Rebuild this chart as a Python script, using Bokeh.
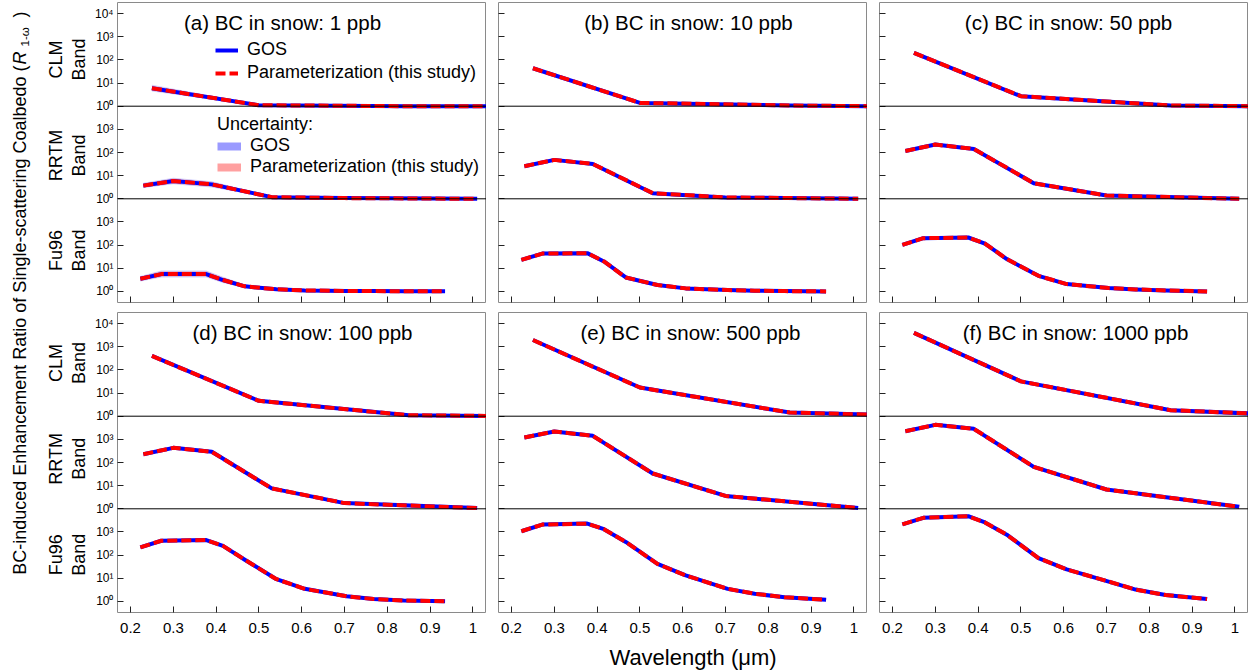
import math
from bokeh.plotting import figure
from bokeh.models import (Range1d, FixedTicker, Label, Legend, LegendItem,
                          NumeralTickFormatter, LogScale, Span, CustomLabelingPolicy)
from bokeh.layouts import row, column
from bokeh.embed import file_html
from bokeh.resources import INLINE

FONT = "Liberation Sans"

# ---------------- data ----------------
wl_clm = [0.25, 0.50, 0.85, 1.05]
wl_rrtm = [0.23, 0.30, 0.39, 0.53, 0.70, 1.01]
wl_fu96 = [0.223, 0.272, 0.377, 0.416, 0.467, 0.541, 0.607, 0.705, 0.768, 0.838, 0.935]

bc_ppb = [1, 10, 50, 100, 500, 1000]
panel_titles = ["(a) BC in snow: 1 ppb", "(b) BC in snow: 10 ppb", "(c) BC in snow: 50 ppb",
                "(d) BC in snow: 100 ppb", "(e) BC in snow: 500 ppb", "(f) BC in snow: 1000 ppb"]
band_names = ["CLM", "RRTM", "Fu96"]
x_ticks = [0.2, 0.3, 0.4, 0.5, 0.6, 0.7, 0.8, 0.9, 1.0]
y_tick_exponents = [0, 1, 2, 3, 4]

# GOS enhancement ratio, CLM bands
gos_clm_1 = [6.0, 1.1, 1.0, 1.0]
gos_clm_10 = [43.6, 1.39, 1.07, 1.0]
gos_clm_50 = [200, 2.7, 1.07, 1.0]
gos_clm_100 = [400, 4.6, 1.1, 1.02]
gos_clm_500 = [1950, 17.3, 1.44, 1.15]
gos_clm_1000 = [3980, 32, 1.82, 1.28]

# GOS enhancement ratio, RRTM bands
gos_rrtm_1 = [3.7, 5.9, 4.2, 1.18, 1.07, 1.0]
gos_rrtm_10 = [25.6, 48, 32, 1.75, 1.15, 1.0]
gos_rrtm_50 = [117, 220, 143, 4.7, 1.39, 1.0]
gos_rrtm_100 = [229, 430, 289, 7.6, 1.76, 1.07]
gos_rrtm_500 = [1200, 2180, 1420, 33.5, 3.6, 1.08]
gos_rrtm_1000 = [2240, 4230, 2840, 65, 6.8, 1.22]

# GOS enhancement ratio, Fu96 bands
gos_fu96_1 = [3.5, 5.6, 5.6, 3.1, 1.65, 1.23, 1.1, 1.05, 1.03, 1.02, 1.01]
gos_fu96_10 = [23, 43, 45, 19.7, 4.0, 1.88, 1.35, 1.14, 1.07, 1.03, 1.0]
gos_fu96_50 = [102, 199, 213, 117, 25, 4.7, 2.07, 1.39, 1.22, 1.1, 1.0]
gos_fu96_100 = [214, 417, 447, 251, 63, 9.1, 3.5, 1.66, 1.26, 1.1, 1.02]
gos_fu96_500 = [1070, 2090, 2290, 1320, 370, 41.7, 13.2, 3.47, 2.14, 1.51, 1.17]
gos_fu96_1000 = [2140, 4070, 4790, 2570, 760, 74, 24, 7.2, 3.24, 1.88, 1.26]

# Parameterization (this study): indistinguishable from GOS at the drawn line width
par_clm_1 = [6.0, 1.1, 1.0, 1.0]
par_clm_10 = [43.6, 1.39, 1.07, 1.0]
par_clm_50 = [200, 2.7, 1.07, 1.0]
par_clm_100 = [400, 4.6, 1.1, 1.02]
par_clm_500 = [1950, 17.3, 1.44, 1.15]
par_clm_1000 = [3980, 32, 1.82, 1.28]
par_rrtm_1 = [3.7, 5.9, 4.2, 1.18, 1.07, 1.0]
par_rrtm_10 = [25.6, 48, 32, 1.75, 1.15, 1.0]
par_rrtm_50 = [117, 220, 143, 4.7, 1.39, 1.0]
par_rrtm_100 = [229, 430, 289, 7.6, 1.76, 1.07]
par_rrtm_500 = [1200, 2180, 1420, 33.5, 3.6, 1.08]
par_rrtm_1000 = [2240, 4230, 2840, 65, 6.8, 1.22]
par_fu96_1 = [3.5, 5.6, 5.6, 3.1, 1.65, 1.23, 1.1, 1.05, 1.03, 1.02, 1.01]
par_fu96_10 = [23, 43, 45, 19.7, 4.0, 1.88, 1.35, 1.14, 1.07, 1.03, 1.0]
par_fu96_50 = [102, 199, 213, 117, 25, 4.7, 2.07, 1.39, 1.22, 1.1, 1.0]
par_fu96_100 = [214, 417, 447, 251, 63, 9.1, 3.5, 1.66, 1.26, 1.1, 1.02]
par_fu96_500 = [1070, 2090, 2290, 1320, 370, 41.7, 13.2, 3.47, 2.14, 1.51, 1.17]
par_fu96_1000 = [2140, 4070, 4790, 2570, 760, 74, 24, 7.2, 3.24, 1.88, 1.26]

# Uncertainty ranges (only visible at 1 ppb)
gos_lo_clm_1 = [4.3, 1.03, 1.0, 1.0]
gos_hi_clm_1 = [8.5, 1.2, 1.0, 1.0]
par_lo_clm_1 = [4.6, 1.04, 1.0, 1.0]
par_hi_clm_1 = [7.9, 1.17, 1.0, 1.0]
gos_lo_rrtm_1 = [2.9, 4.3, 3.1, 1.08, 1.03, 1.0]
gos_hi_rrtm_1 = [4.9, 8.2, 5.8, 1.3, 1.1, 1.0]
par_lo_rrtm_1 = [3.0, 4.5, 3.2, 1.09, 1.03, 1.0]
par_hi_rrtm_1 = [4.6, 7.8, 5.5, 1.28, 1.1, 1.0]
gos_lo_fu96_1 = [2.7, 4.0, 4.0, 2.3, 1.4, 1.12, 1.05, 1.03, 1.02, 1.01, 1.0]
gos_hi_fu96_1 = [4.6, 8.0, 8.0, 4.3, 2.0, 1.35, 1.15, 1.07, 1.04, 1.02, 1.01]
par_lo_fu96_1 = [2.8, 4.2, 4.2, 2.4, 1.42, 1.13, 1.05, 1.03, 1.02, 1.01, 1.0]
par_hi_fu96_1 = [4.4, 7.6, 7.6, 4.1, 1.95, 1.33, 1.14, 1.07, 1.04, 1.02, 1.01]

gos = {
    "CLM": [gos_clm_1, gos_clm_10, gos_clm_50, gos_clm_100, gos_clm_500, gos_clm_1000],
    "RRTM": [gos_rrtm_1, gos_rrtm_10, gos_rrtm_50, gos_rrtm_100, gos_rrtm_500, gos_rrtm_1000],
    "Fu96": [gos_fu96_1, gos_fu96_10, gos_fu96_50, gos_fu96_100, gos_fu96_500, gos_fu96_1000],
}
par = {
    "CLM": [par_clm_1, par_clm_10, par_clm_50, par_clm_100, par_clm_500, par_clm_1000],
    "RRTM": [par_rrtm_1, par_rrtm_10, par_rrtm_50, par_rrtm_100, par_rrtm_500, par_rrtm_1000],
    "Fu96": [par_fu96_1, par_fu96_10, par_fu96_50, par_fu96_100, par_fu96_500, par_fu96_1000],
}
unc_1ppb = {
    "CLM": (gos_lo_clm_1, gos_hi_clm_1, par_lo_clm_1, par_hi_clm_1),
    "RRTM": (gos_lo_rrtm_1, gos_hi_rrtm_1, par_lo_rrtm_1, par_hi_rrtm_1),
    "Fu96": (gos_lo_fu96_1, gos_hi_fu96_1, par_lo_fu96_1, par_hi_fu96_1),
}
wl = {"CLM": wl_clm, "RRTM": wl_rrtm, "Fu96": wl_fu96}

# ---------------- layout constants ----------------
FW = 369
FH = 300
H_CLM, H_RRTM = 103.7, 92.6
DEC = H_RRTM / 4.0                 # pixels per decade
TOP_EXP = H_CLM / DEC
BOT_EXP = TOP_EXP - FH / DEC
X_LO, X_HI = 0.1696, 1.0318
LB = 26                            # left border of first column (tick labels)
LW = 91                            # left strip for band names and y title
TOP_B = 2
GAP_ROWS = 10
BOTTOM_AX = 27
XT_H = 31
HT = TOP_B + FH + GAP_ROWS + FH + BOTTOM_AX + XT_H
GREY = "#8a8a8a"
BLUE = "#0000FF"
RED = "#FF0000"
TXT = "#000000"
title_x = [165, 190, 189, 185, 192, 196]
range_name = {"CLM": "default", "RRTM": "rrtm", "Fu96": "fu96"}
band_shift = {"CLM": 0, "RRTM": 4, "Fu96": 8}

SUP = {0: "\u2070", 1: "\u00b9", 2: "\u00b2", 3: "\u00b3", 4: "\u2074"}

# y tick positions in the CLM (default) scale; each band sub-plot is 4 decades lower
y_tick_vals = []
y_tick_text = {}
for band in band_names:
    exps = y_tick_exponents if band == "CLM" else y_tick_exponents[:-1]
    for e in exps:
        v = float("1e%d" % (e - band_shift[band]))
        y_tick_vals.append(v)
        y_tick_text[v] = "10" + SUP[e]


def hide_labels(ax):
    ax.major_label_text_font_size = "0px"
    ax.major_label_standoff = 0
    ax.major_label_policy = CustomLabelingPolicy(code="return []")


def make_panel(i):
    r, c = divmod(i, 3)
    p = figure(frame_width=FW, frame_height=FH,
               x_range=Range1d(X_LO, X_HI),
               y_range=Range1d(10 ** BOT_EXP, 10 ** TOP_EXP),
               y_axis_type="log", output_backend="svg", toolbar_location=None,
               min_border_left=(LB if c == 0 else 0), min_border_right=0,
               min_border_top=(TOP_B if r == 0 else 0),
               min_border_bottom=(GAP_ROWS if r == 0 else BOTTOM_AX))
    p.extra_y_ranges = {
        "rrtm": Range1d(10 ** (BOT_EXP + 4), 10 ** (TOP_EXP + 4)),
        "fu96": Range1d(10 ** (BOT_EXP + 8), 10 ** (TOP_EXP + 8)),
    }
    p.extra_y_scales = {"rrtm": LogScale(), "fu96": LogScale()}
    p.xgrid.visible = False
    p.ygrid.visible = False
    p.outline_line_color = GREY
    p.outline_line_width = 1
    p.background_fill_color = "white"
    p.border_fill_color = "white"

    ya = p.yaxis[0]
    ya.ticker = FixedTicker(ticks=y_tick_vals)
    ya.major_label_overrides = dict(y_tick_text)
    ya.axis_line_color = None
    ya.major_tick_in = 6
    ya.major_tick_out = 0
    ya.major_tick_line_color = "#222222"
    ya.minor_tick_line_color = None
    ya.major_label_text_font = FONT
    ya.major_label_text_color = TXT
    if c == 0:
        ya.major_label_text_font_size = "12px"
        ya.major_label_standoff = 4
    else:
        hide_labels(ya)

    xa = p.xaxis[0]
    xa.ticker = FixedTicker(ticks=x_ticks)
    xa.formatter = NumeralTickFormatter(format="0.[0]")
    xa.axis_line_color = None
    xa.major_tick_in = 6
    xa.major_tick_out = 0
    xa.major_tick_line_color = "#222222"
    xa.minor_tick_line_color = None
    xa.major_label_text_font = FONT
    xa.major_label_text_color = TXT
    if r == 1:
        xa.major_label_text_font_size = "15px"
        xa.major_label_standoff = 10
    else:
        hide_labels(xa)

    # dividers between the band sub-plots
    p.add_layout(Span(location=1, dimension="width", line_color="black", line_width=1))
    p.add_layout(Span(location=1, dimension="width", y_range_name="rrtm",
                      line_color="black", line_width=1))

    rends = {}
    for band in band_names:
        kw = {} if band == "CLM" else {"y_range_name": range_name[band]}
        xs = wl[band]
        if i == 0:
            glo, ghi, plo, phi = unc_1ppb[band]
            p.varea(x=xs, y1=glo, y2=ghi, fill_color="#5050ff", fill_alpha=0.25, **kw)
            p.varea(x=xs, y1=plo, y2=phi, fill_color="#ff5050", fill_alpha=0.2, **kw)
        rg = p.line(xs, gos[band][i], line_color=BLUE, line_width=4, line_join="round", **kw)
        rp = p.line(xs, par[band][i], line_color=RED, line_width=4, line_dash="10 4",
                    line_join="round", **kw)
        rends[band] = (rg, rp)

    p.add_layout(Label(x=title_x[i], y=FH - 20, x_units="screen", y_units="screen",
                       text=panel_titles[i], text_font=FONT, text_font_size="20.5px",
                       text_align="center", text_baseline="alphabetic", text_color=TXT))

    if i == 0:
        rg, rp = rends["CLM"]
        leg1 = Legend(items=[LegendItem(label="GOS", renderers=[rg]),
                             LegendItem(label="Parameterization (this study)", renderers=[rp])],
                      location=(98, 219))
        # legend keys for the uncertainty shading (draw nothing in the plot)
        nan = float("nan")
        eg = p.line([nan], [nan], line_color="#9a9aff", line_width=8)
        ep = p.line([nan], [nan], line_color="#ffa0a0", line_width=8)
        leg2 = Legend(items=[LegendItem(label="GOS", renderers=[eg]),
                             LegendItem(label="Parameterization (this study)", renderers=[ep])],
                      title="Uncertainty:", location=(100, 125))
        for lg, gw, sp in ((leg1, 23, 2), (leg2, 24, 0)):
            lg.background_fill_alpha = 0
            lg.border_line_color = None
            lg.padding = 0
            lg.margin = 0
            lg.label_text_font = FONT
            lg.label_text_font_size = "18px"
            lg.label_text_color = TXT
            lg.glyph_width = gw
            lg.glyph_height = 20
            lg.label_height = 20
            lg.label_standoff = 9
            lg.spacing = sp
            lg.title_text_font = FONT
            lg.title_text_font_size = "18px"
            lg.title_text_font_style = "normal"
            lg.title_text_color = TXT
            lg.title_standoff = 0
            p.add_layout(lg)
    return p


panels = [make_panel(i) for i in range(6)]

# ---- left strip: y title and band names ----
lf = figure(width=LW, height=HT, x_range=Range1d(0, LW), y_range=Range1d(0, HT),
            min_border=0, x_axis_type=None, y_axis_type=None, toolbar_location=None,
            output_backend="svg", outline_line_color=None)
lf.grid.visible = False
band_label_page_y = [[59, 155, 250], [362.5, 458.3, 554.2]]
for rr in (0, 1):
    for k, band in enumerate(band_names):
        yc = HT - band_label_page_y[rr][k]
        lf.add_layout(Label(x=55.5, y=yc, x_units="screen", y_units="screen", text=band,
                            angle=math.pi / 2, text_font=FONT, text_font_size="18px",
                            text_align="center", text_baseline="middle", text_color=TXT))
        lf.add_layout(Label(x=78, y=yc, x_units="screen", y_units="screen", text="Band",
                            angle=math.pi / 2, text_font=FONT, text_font_size="18px",
                            text_align="center", text_baseline="middle", text_color=TXT))

lf.add_layout(Label(x=19, y=HT - 65, x_units="screen", y_units="screen", angle=math.pi / 2,
                    text="BC-induced Enhancement Ratio of Single-scattering Coalbedo (",
                    text_font=FONT, text_font_size="18px", text_align="right",
                    text_baseline="middle", text_color=TXT))
lf.add_layout(Label(x=19, y=HT - 64, x_units="screen", y_units="screen", angle=math.pi / 2,
                    text="R", text_font=FONT, text_font_size="18px", text_font_style="italic",
                    text_align="left", text_baseline="middle", text_color=TXT))
lf.add_layout(Label(x=24, y=HT - 46, x_units="screen", y_units="screen", angle=math.pi / 2,
                    text="1-\u03c9", text_font=FONT, text_font_size="11.5px",
                    text_align="left", text_baseline="middle", text_color=TXT))
lf.add_layout(Label(x=19, y=HT - 17, x_units="screen", y_units="screen", angle=math.pi / 2,
                    text=")", text_font=FONT, text_font_size="18px",
                    text_align="left", text_baseline="middle", text_color=TXT))

# ---- x title ----
XT_W = LB + 3 * FW + 24
xt = figure(width=XT_W, height=XT_H, x_range=Range1d(0, XT_W), y_range=Range1d(0, XT_H),
            min_border=0, x_axis_type=None, y_axis_type=None, toolbar_location=None,
            output_backend="svg", outline_line_color=None)
xt.grid.visible = False
xt.add_layout(Label(x=692.5 - LW, y=13, x_units="screen", y_units="screen",
                    text="Wavelength (\u03bcm)",
                    text_font=FONT, text_font_size="22px", text_align="center",
                    text_baseline="middle", text_color=TXT))

grid = column(row(panels[0], panels[1], panels[2], spacing=12),
              row(panels[3], panels[4], panels[5], spacing=12),
              xt, spacing=0)
page = row(lf, grid, spacing=0)

open("out.html", "w").write(file_html(page, INLINE))
